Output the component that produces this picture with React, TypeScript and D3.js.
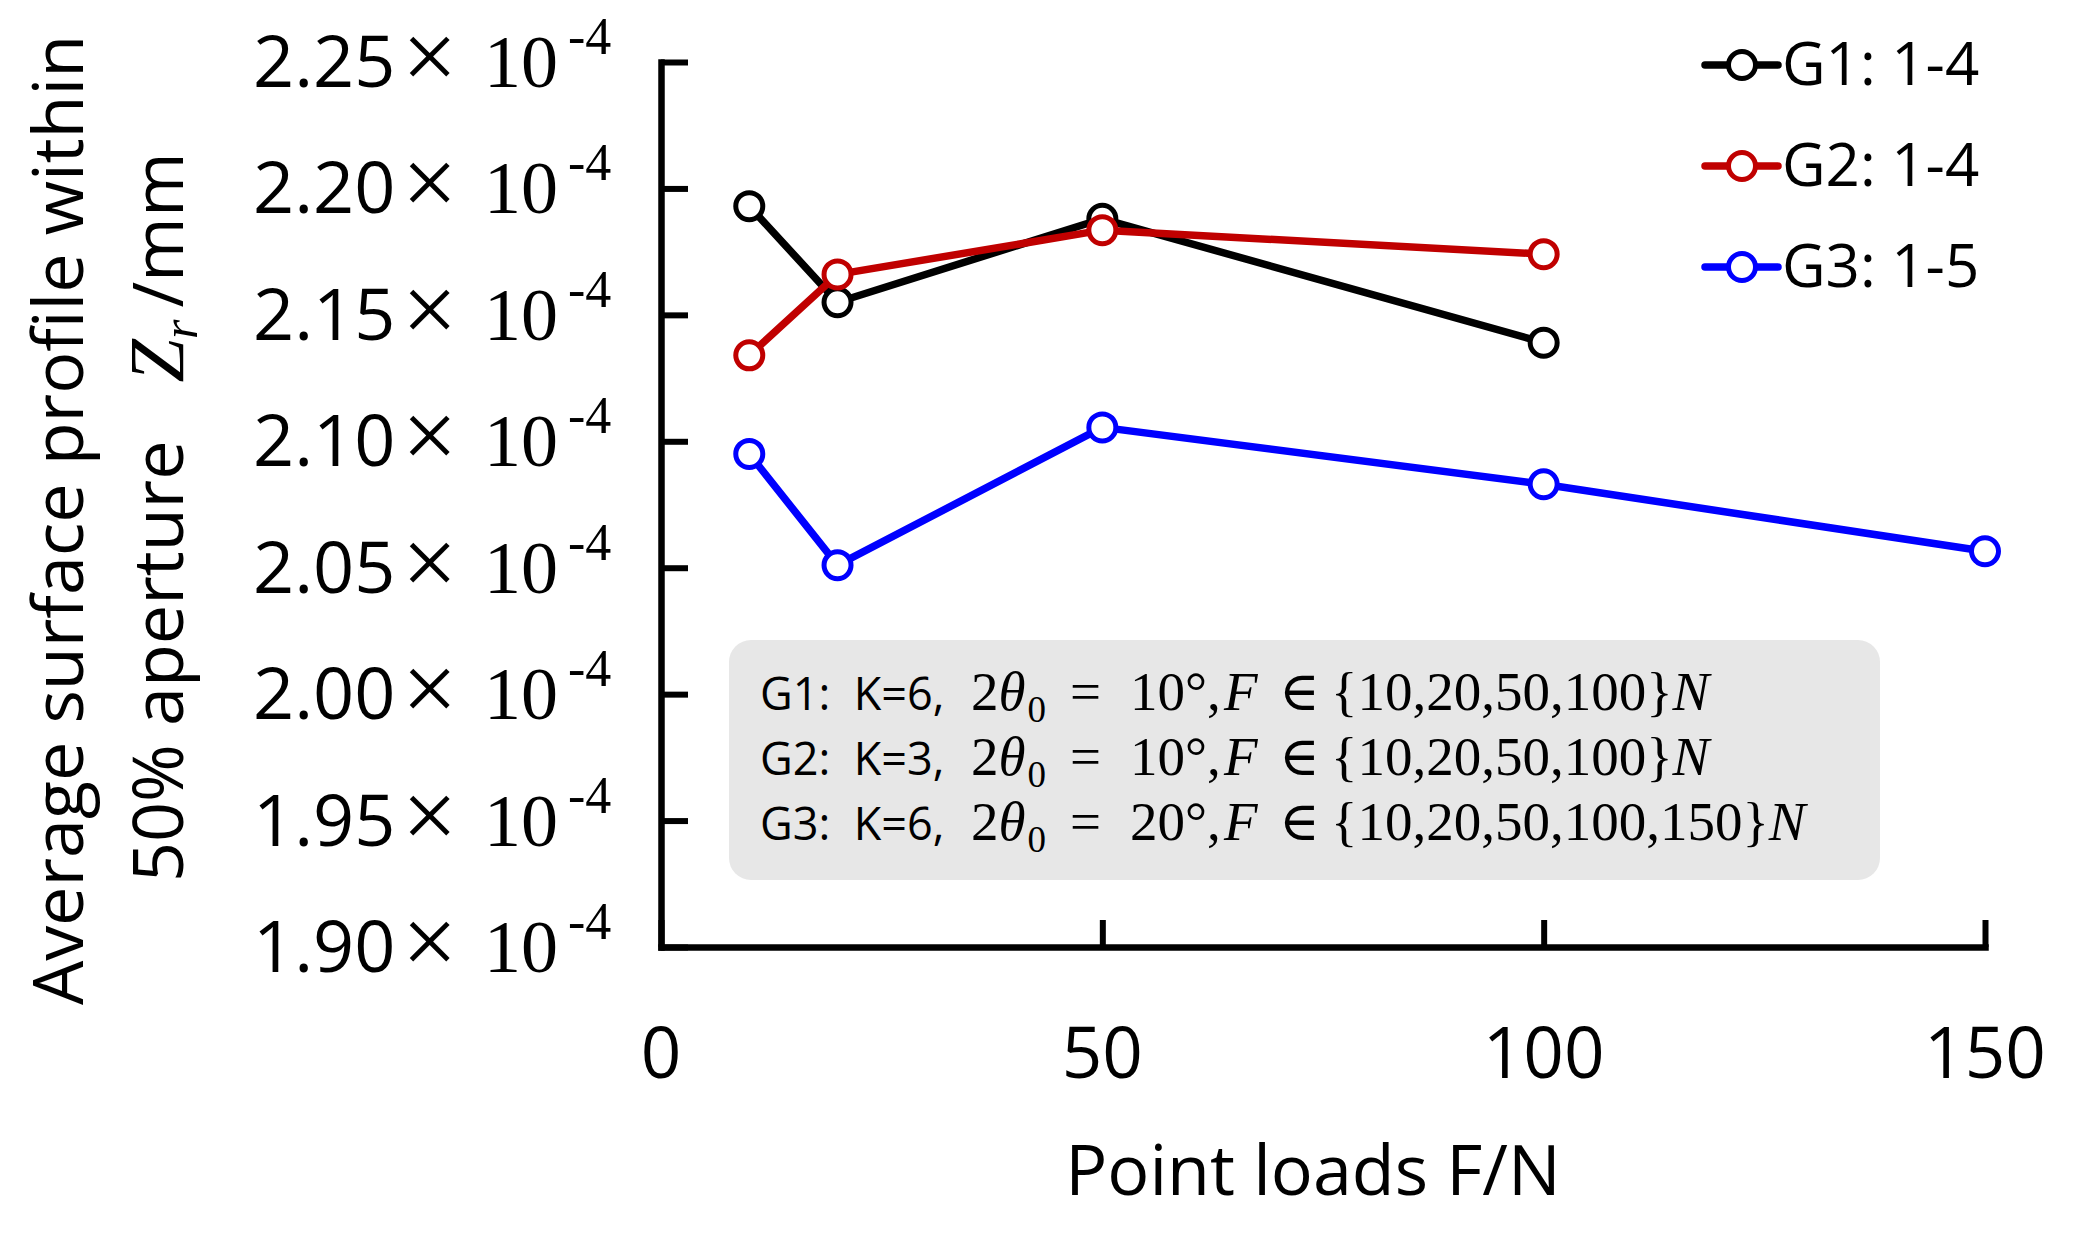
import React, { useRef, useEffect } from "react";
import * as d3 from "d3";

// point loads (N) for each group
const loadsG1 = [10, 20, 50, 100];
const loadsG2 = [10, 20, 50, 100];
const loadsG3 = [10, 20, 50, 100, 150];

// average surface profile Zr, in units of 1e-4 mm
const zrG1 = [2.193, 2.155, 2.188, 2.139];
const zrG2 = [2.134, 2.166, 2.1835, 2.174];
const zrG3 = [2.095, 2.051, 2.1055, 2.083, 2.0565];

const seriesNames = ["G1: 1-4", "G2: 1-4", "G3: 1-5"];
const seriesColors = ["#000000", "#c00000", "#0000ff"];

const xTicks = [0, 50, 100, 150];
const yTicks = [1.9, 1.95, 2.0, 2.05, 2.1, 2.15, 2.2, 2.25];

const groupLabels = ["G1:", "G2:", "G3:"];
const groupK = [6, 3, 6];
const groupAngles = [10, 10, 20];

const SANS = "'Open Sans', 'Noto Sans', sans-serif";
const SERIF = "'Liberation Serif', 'DejaVu Serif', serif";

function App() {
  const canvas = useRef<SVGSVGElement>(null);

  function drawChart() {
    const svg = d3.select(canvas.current);
    svg.selectAll("*").remove();

    const x = d3.scaleLinear().domain([0, 150]).range([661, 1985]);
    const y = d3.scaleLinear().domain([1.9, 2.25]).range([947, 62]);

    const series = [
      { loads: loadsG1, values: zrG1 },
      { loads: loadsG2, values: zrG2 },
      { loads: loadsG3, values: zrG3 },
    ];

    // axes with inward ticks, labels drawn separately
    const yAxis = d3
      .axisLeft(y)
      .tickValues(yTicks)
      .tickSizeInner(-27)
      .tickSizeOuter(0)
      .tickFormat(() => "");
    const gy = svg.append("g").attr("transform", `translate(${x(0)},0)`).call(yAxis);

    const xAxis = d3
      .axisBottom(x)
      .tickValues(xTicks)
      .tickSizeInner(-27)
      .tickSizeOuter(0)
      .tickFormat(() => "");
    const gx = svg.append("g").attr("transform", `translate(0,${y(1.9)})`).call(xAxis);

    [gx, gy].forEach((g) => {
      g.select(".domain")
        .attr("stroke", "#000")
        .attr("stroke-width", 6.5)
        .attr("stroke-linecap", "square");
      g.selectAll(".tick line").attr("stroke", "#000").attr("stroke-width", 6);
    });

    // y tick labels: 2.25 × 10^-4
    const fmt = d3.format(".2f");
    yTicks.forEach((v) => {
      const ty = y(v);
      svg
        .append("text")
        .attr("x", 253)
        .attr("y", ty + 25)
        .style("font-family", SANS)
        .style("font-size", "72px")
        .text(fmt(v));
      svg
        .append("text")
        .attr("x", 402)
        .attr("y", ty + 27)
        .style("font-family", SERIF)
        .style("font-size", "98px")
        .text("\u00d7");
      svg
        .append("text")
        .attr("x", 484)
        .attr("y", ty + 25)
        .style("font-family", SERIF)
        .style("font-size", "74px")
        .text("10");
      svg
        .append("text")
        .attr("x", 568)
        .attr("y", ty - 8)
        .style("font-family", SERIF)
        .style("font-size", "52px")
        .text("-4");
    });

    // x tick labels
    svg
      .selectAll("text.xt")
      .data(xTicks)
      .enter()
      .append("text")
      .attr("class", "xt")
      .attr("x", (d) => x(d))
      .attr("y", 1078)
      .style("font-family", SANS)
      .style("font-size", "71px")
      .style("text-anchor", "middle")
      .text((d) => d);

    // x axis title
    svg
      .append("text")
      .attr("x", 1313)
      .attr("y", 1195)
      .style("font-family", SANS)
      .style("font-size", "70px")
      .style("text-anchor", "middle")
      .text("Point loads F/N");

    // y axis title, two rotated lines
    svg
      .append("text")
      .attr("transform", "translate(83,520) rotate(-90)")
      .style("font-family", SANS)
      .style("font-size", "70px")
      .style("text-anchor", "middle")
      .text("Average surface profile within");

    const t2 = svg
      .append("text")
      .attr("transform", "translate(183,882) rotate(-90)")
      .style("font-family", SANS)
      .style("font-size", "70px");
    t2.append("tspan").text("50% aperture");
    t2.append("tspan")
      .attr("dx", 58)
      .style("font-family", SERIF)
      .style("font-style", "italic")
      .style("font-size", "78px")
      .text("Z");
    t2.append("tspan")
      .attr("dy", 14)
      .style("font-family", SERIF)
      .style("font-style", "italic")
      .style("font-size", "50px")
      .text("r");
    t2.append("tspan").attr("dy", -14).attr("dx", 12).text("/mm");

    // annotation box
    svg
      .append("rect")
      .attr("x", 729)
      .attr("y", 640)
      .attr("width", 1151)
      .attr("height", 240)
      .attr("rx", 22)
      .attr("fill", "#e7e7e7");

    const boxLoads = [loadsG1, loadsG2, loadsG3];
    groupLabels.forEach((lab, i) => {
      const t = svg
        .append("text")
        .attr("x", 760)
        .attr("y", 710 + i * 65)
        .style("font-family", SANS)
        .style("font-size", "45px");
      t.append("tspan").text(`${lab}\u00a0\u00a0K=${groupK[i]},`);
      const s = (txt: string, xPos: number | null, italic = false) => {
        const ts = t
          .append("tspan")
          .style("font-family", SERIF)
          .style("font-size", "55px")
          .style("font-style", italic ? "italic" : "normal")
          .text(txt);
        if (xPos !== null) ts.attr("x", xPos);
        return ts;
      };
      s("2", 971);
      s("\u03b8", null, true);
      t.append("tspan")
        .attr("dy", 12)
        .attr("dx", 2)
        .style("font-family", SERIF)
        .style("font-size", "37px")
        .text("0");
      s("=", 1070).attr("dy", -12);
      s(`${groupAngles[i]}\u00b0,`, 1130);
      s("F", 1224, true);
      s("\u2208", 1279);
      s(`{${boxLoads[i].join(",")}}`, 1331);
      s("N", null, true);
    });

    // series: line then markers
    const line = d3
      .line<[number, number]>()
      .x((d) => x(d[0]))
      .y((d) => y(d[1]));

    series.forEach((sr, i) => {
      const pts = sr.loads.map((l, j) => [l, sr.values[j]] as [number, number]);
      svg
        .append("path")
        .datum(pts)
        .attr("d", line)
        .attr("fill", "none")
        .attr("stroke", seriesColors[i])
        .attr("stroke-width", 7.5)
        .attr("stroke-linejoin", "round");
      svg
        .append("g")
        .selectAll("circle")
        .data(pts)
        .enter()
        .append("circle")
        .attr("cx", (d) => x(d[0]))
        .attr("cy", (d) => y(d[1]))
        .attr("r", 13.5)
        .attr("fill", "#fff")
        .attr("stroke", seriesColors[i])
        .attr("stroke-width", 5);
    });

    // legend
    seriesNames.forEach((name, i) => {
      const ly = 65 + i * 101;
      const g = svg.append("g");
      g.append("line")
        .attr("x1", 1705)
        .attr("x2", 1778)
        .attr("y1", ly)
        .attr("y2", ly)
        .attr("stroke", seriesColors[i])
        .attr("stroke-width", 7.5)
        .attr("stroke-linecap", "round");
      g.append("circle")
        .attr("cx", 1742)
        .attr("cy", ly)
        .attr("r", 13.5)
        .attr("fill", "#fff")
        .attr("stroke", seriesColors[i])
        .attr("stroke-width", 5);
      g.append("text")
        .attr("x", 1782)
        .attr("y", ly + 20)
        .style("font-family", SANS)
        .style("font-size", "60px")
        .text(name);
    });
  }

  useEffect(() => {
    drawChart();
  }, []);

  return (
    <>
      <svg
        ref={canvas}
        width={2073}
        height={1233}
        style={{ position: "absolute", left: 0, top: 0, background: "#fff" }}
      ></svg>
    </>
  );
}

export default App;
